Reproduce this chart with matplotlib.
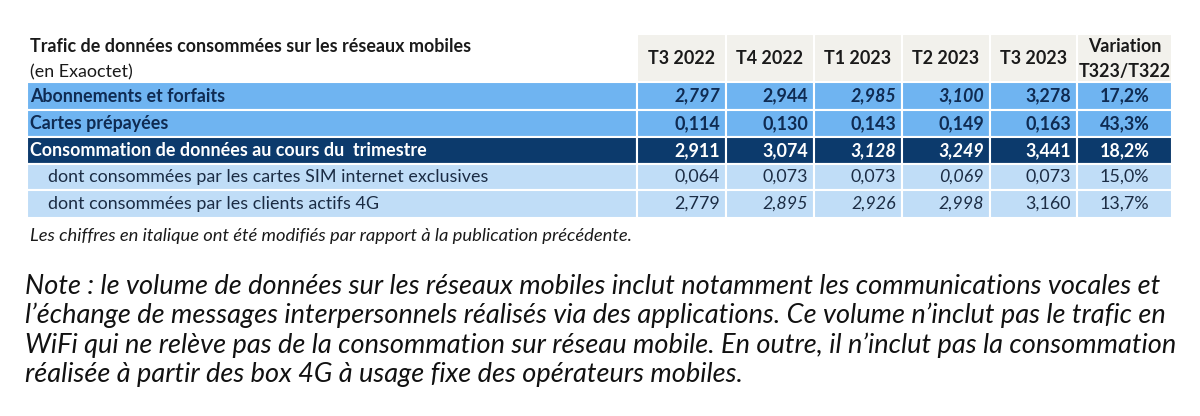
import matplotlib.pyplot as plt
from matplotlib.patches import Rectangle

plt.rcParams['font.family'] = ['Lato', 'DejaVu Sans']

# données du tableau
title_1 = 'Trafic de données consommées sur les réseaux mobiles'
title_2 = '(en Exaoctet)'
periods = ['T3 2022', 'T4 2022', 'T1 2023', 'T2 2023', 'T3 2023']
variation_header = 'Variation\nT323/T322'
row_labels = ['Abonnements et forfaits',
              'Cartes prépayées',
              'Consommation de données au cours du  trimestre',
              'dont consommées par les cartes SIM internet exclusives',
              'dont consommées par les clients actifs 4G']
values = [[2.797, 2.944, 2.985, 3.100, 3.278],
          [0.114, 0.130, 0.143, 0.149, 0.163],
          [2.911, 3.074, 3.128, 3.249, 3.441],
          [0.064, 0.073, 0.073, 0.069, 0.073],
          [2.779, 2.895, 2.926, 2.998, 3.160]]
variation = [17.2, 43.3, 18.2, 15.0, 13.7]
# valeurs modifiées (en italique)
italic_flags = [[1, 0, 1, 1, 0],
                [0, 0, 0, 0, 0],
                [0, 0, 1, 1, 0],
                [0, 0, 0, 1, 0],
                [0, 1, 1, 1, 0]]
footnote = 'Les chiffres en italique ont été modifiés par rapport à la publication précédente.'
note_lines = ["Note : le volume de données sur les réseaux mobiles inclut notamment les communications vocales et",
              "l’échange de messages interpersonnels réalisés via des applications. Ce volume n’inclut pas le trafic en",
              "WiFi qui ne relève pas de la consommation sur réseau mobile. En outre, il n’inclut pas la consommation",
              "réalisée à partir des box 4G à usage fixe des opérateurs mobiles."]

# mise en page (pixels)
col_edges = [27, 637, 726, 814, 902, 990, 1077, 1172]
header_top, header_bot = 34, 82
row_edges = [82, 110, 137, 164, 190, 218]
row_bg = ['#6fb4f1', '#6fb4f1', '#0c3a6c', '#c0ddf7', '#c0ddf7']
row_fg = ['#0f2b52', '#0f2b52', '#ffffff', '#1b2c44', '#1b2c44']
row_bold = [True, True, True, False, False]
fs = 12.9


def fr(v, n=3):
    return f'{v:.{n}f}'.replace('.', ',')


fig = plt.figure(figsize=(12, 4.16), dpi=100)
ax = fig.add_axes([0, 0, 1, 1])
ax.set_xlim(0, 1200)
ax.set_ylim(416, 0)
ax.axis('off')

# en-tête
ax.text(30, 47, title_1, fontsize=fs, fontweight='bold', color='#1a1a1a', va='center')
ax.text(30, 72, title_2, fontsize=fs, color='#1a1a1a', va='center')
for j in range(6):
    x0, x1 = col_edges[j + 1], col_edges[j + 2]
    ax.add_patch(Rectangle((x0, header_top), x1 - x0, header_bot - header_top,
                           facecolor='#f2f1ec', edgecolor='white', lw=1.5))
    if j < 5:
        ax.text((x0 + x1) / 2, 59, periods[j], fontsize=fs, fontweight='bold',
                color='#1a1a1a', ha='center', va='center')
    else:
        ax.text((x0 + x1) / 2, 59, variation_header, fontsize=fs, fontweight='bold',
                color='#1a1a1a', ha='center', va='center', linespacing=1.5)

# lignes du tableau
for i, label in enumerate(row_labels):
    y0, y1 = row_edges[i], row_edges[i + 1]
    yc = (y0 + y1) / 2
    w = 'bold' if row_bold[i] else 'normal'
    ax.add_patch(Rectangle((col_edges[0], y0), col_edges[1] - col_edges[0], y1 - y0,
                           facecolor=row_bg[i], edgecolor='white', lw=1.5))
    lx = 30 if row_bold[i] else 48
    ax.text(lx, yc, label, fontsize=fs, fontweight=w, color=row_fg[i], va='center')
    for j in range(6):
        x0, x1 = col_edges[j + 1], col_edges[j + 2]
        ax.add_patch(Rectangle((x0, y0), x1 - x0, y1 - y0,
                               facecolor=row_bg[i], edgecolor='white', lw=1.5))
        if j < 5:
            st = 'italic' if italic_flags[i][j] else 'normal'
            ax.text(x1 - 6, yc, fr(values[i][j]), fontsize=fs, fontweight=w, style=st,
                    color=row_fg[i], ha='right', va='center')
        else:
            ax.text((x0 + x1) / 2, yc, fr(variation[i], 1) + '%', fontsize=fs, fontweight=w,
                    color=row_fg[i], ha='center', va='center')

ax.text(30, 236, footnote, fontsize=13.2, style='italic', color='#1a1a1a', va='center')

for k, line in enumerate(note_lines):
    ax.text(25, 286 + k * 29.5, line, fontsize=19.5, style='italic', color='#111111', va='center')

fig.savefig('out.png', dpi=100, facecolor='white')
